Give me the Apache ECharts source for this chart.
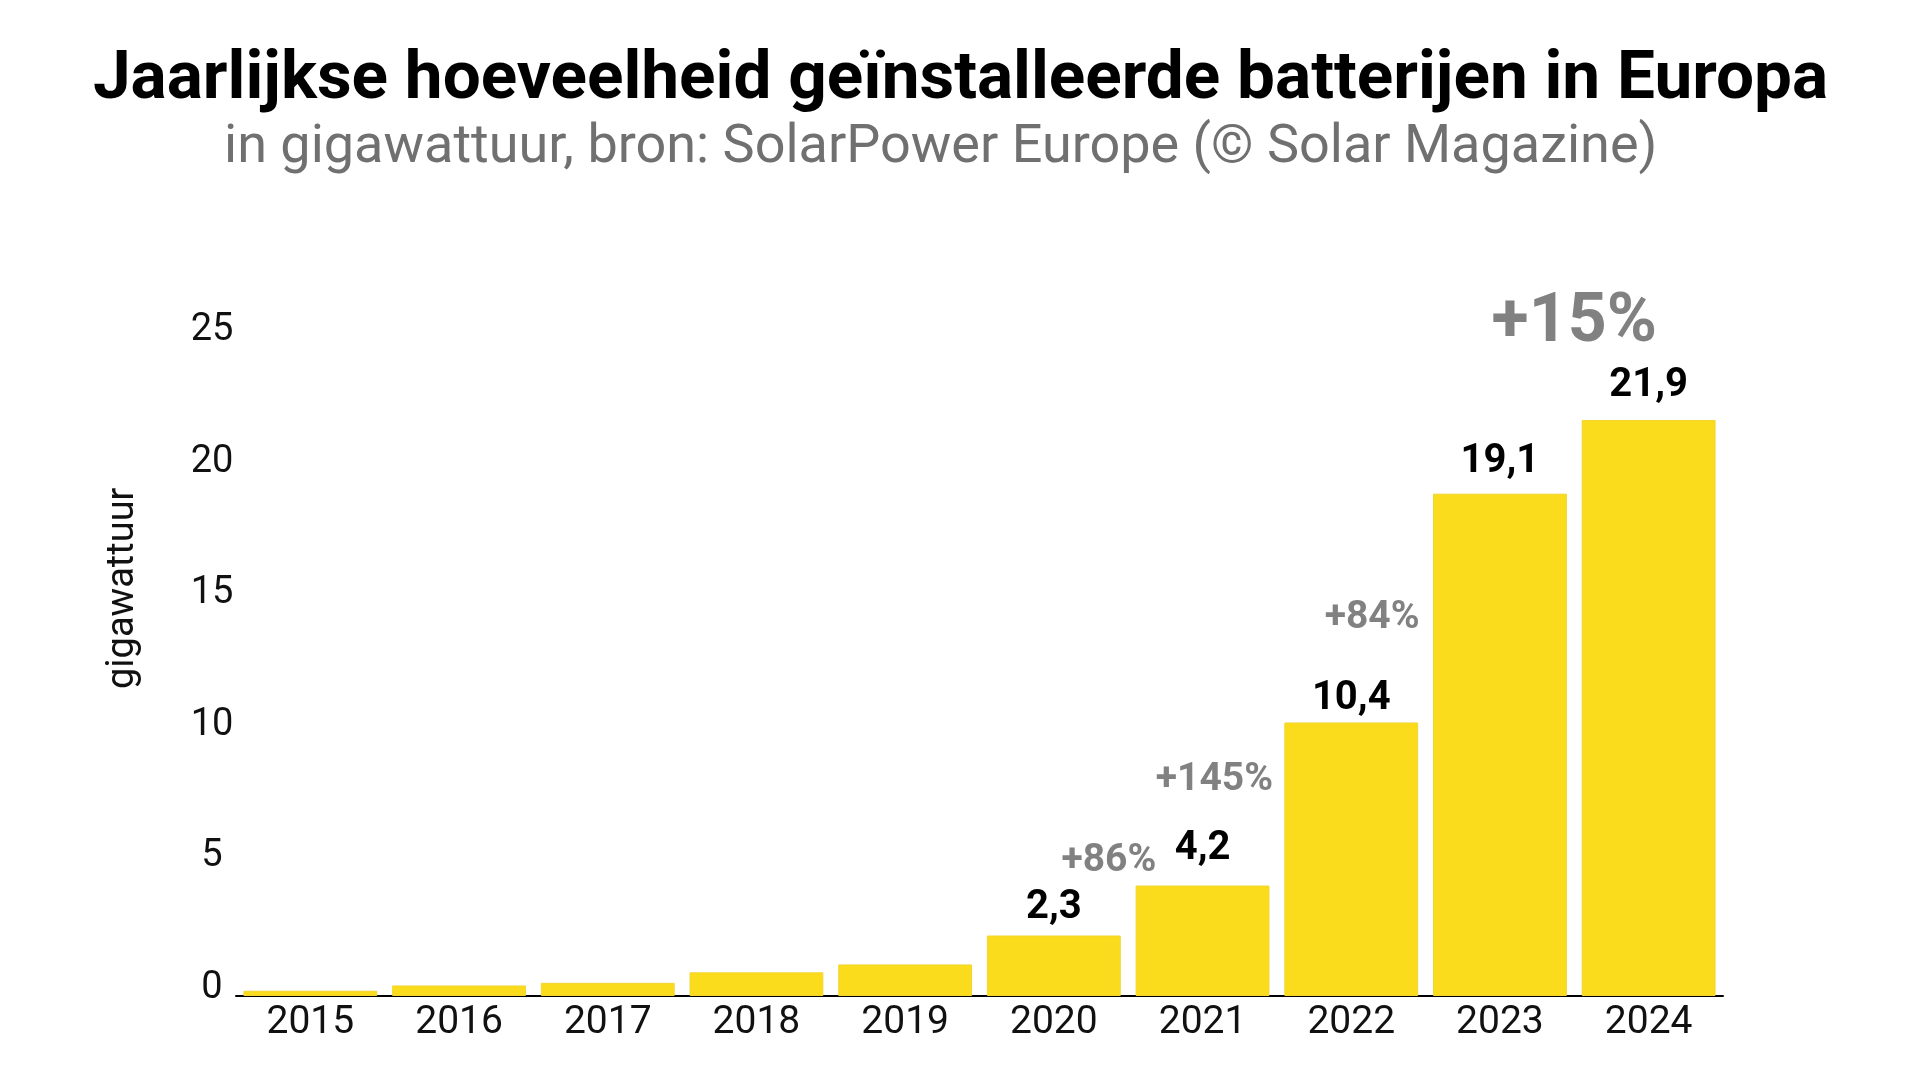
<!DOCTYPE html>
<html>
<head>
<meta charset="utf-8">
<script src="https://cdn.jsdelivr.net/npm/echarts@6/dist/echarts.min.js"></script>
<style>
html,body{margin:0;padding:0;background:#ffffff;}
#c{width:1921px;height:1080px;}
</style>
</head>
<body>
<div id="c"></div>
<script>
// ---- data ----
const years = ['2015','2016','2017','2018','2019','2020','2021','2022','2023','2024'];
const capacity = [0.2, 0.4, 0.5, 0.9, 1.2, 2.3, 4.2, 10.4, 19.1, 21.9];
const labelledYears = ['2020','2021','2022','2023','2024'];
const growthText = ['+86%', '+145%', '+84%', '+15%'];
const growthPosX = [5.37, 6.08, 7.14, 8.5];      // position in category units
const growthPosY = [5.13, 8.2, 14.35, 25.57];    // position in gigawattuur
const yMin = 0, yMax = 25, yStep = 5;

const titleText = 'Jaarlijkse hoeveelheid geïnstalleerde batterijen in Europa';
const subtitleText = 'in gigawattuur, bron: SolarPower Europe (© Solar Magazine)';
const yName = 'gigawattuur';

// ---- styles ----
const FONT = 'Roboto';
const barColor = '#FBDC1C';
const grey = '#707070';
const growthGrey = '#626262';
const labelDistance = {'2020': 8, '2021': 17, '2022': 3, '2023': 12, '2024': 14};
const growthFontSize = [39, 39, 39, 68];

const fmt = v => String(v).replace('.', ',');

const barData = capacity.map((v, i) => {
  const y = years[i];
  const show = labelledYears.indexOf(y) >= 0;
  return {
    value: v,
    label: {
      show: show,
      position: 'top',
      distance: show ? labelDistance[y] : 5,
      formatter: p => fmt(p.value),
      fontFamily: FONT, fontWeight: 'bold', fontSize: 40, color: '#000'
    }
  };
});

const growthData = growthText.map((t, i) => ({
  value: [growthPosX[i], growthPosY[i]],
  label: {
    show: true, position: 'inside',
    formatter: t,
    fontFamily: FONT, fontWeight: 'bold', fontSize: growthFontSize[i], color: growthGrey
  }
}));

const chart = echarts.init(document.getElementById('c'), null, {renderer: 'canvas'});
chart.setOption({
  backgroundColor: '#ffffff',
  animation: false,
  title: [
    {
      text: titleText, left: 'center', top: 42,
      textStyle: {fontFamily: FONT, fontWeight: 'bold', fontSize: 67.5, color: '#000'}
    },
    {
      text: subtitleText, left: 219, top: 116,
      textStyle: {fontFamily: FONT, fontWeight: 'normal', fontSize: 54, color: grey}
    }
  ],
  grid: {left: 236, right: 198, top: 338.5, bottom: 84, containLabel: false},
  xAxis: [
    {
      type: 'category', data: years,
      axisLine: {show: true, lineStyle: {color: '#000', width: 2}},
      axisTick: {show: false},
      axisLabel: {fontFamily: FONT, fontSize: 39, color: '#111', margin: 8}
    },
    {
      type: 'value', min: -0.5, max: 9.5, show: false
    }
  ],
  yAxis: {
    type: 'value', min: yMin, max: yMax, interval: yStep,
    name: yName, nameLocation: 'middle', nameGap: 94, nameRotate: 90,
    nameTextStyle: {fontFamily: FONT, fontSize: 38, color: '#111', padding: [0, 0, 0, 158]},
    axisLine: {show: false}, axisTick: {show: false},
    splitLine: {show: false},
    axisLabel: {fontFamily: FONT, fontSize: 38, color: '#111', align: 'center', margin: 24,
      verticalAlign: 'bottom', lineHeight: 16}
  },
  series: [
    {
      type: 'bar', xAxisIndex: 0, data: barData,
      barCategoryGap: '10%',
      itemStyle: {color: barColor, borderColor: '#F2D52E', borderWidth: 1}
    },
    {
      type: 'scatter', xAxisIndex: 1, data: growthData,
      symbolSize: 0, clip: false, silent: true
    }
  ]
});
</script>
</body>
</html>
